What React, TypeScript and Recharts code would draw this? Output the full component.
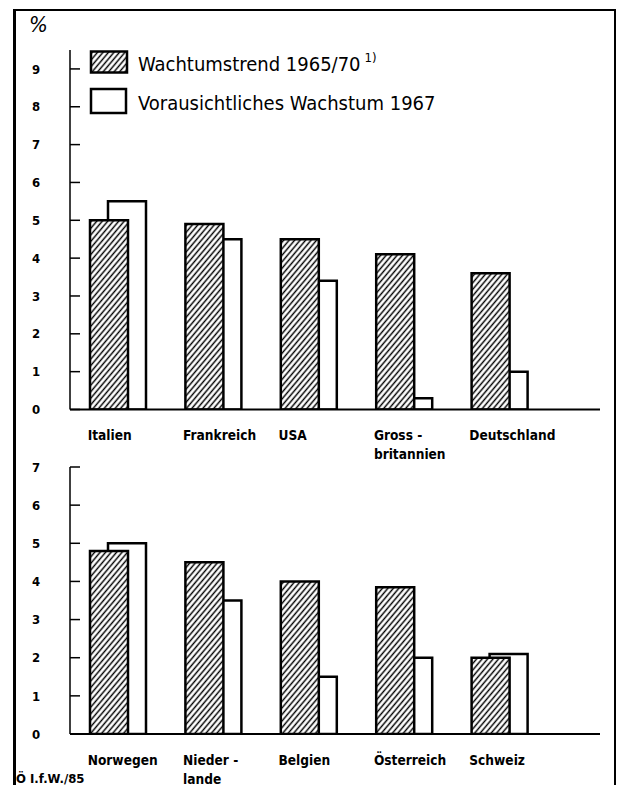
import React from 'react';
import { BarChart, Bar, XAxis, YAxis, Legend } from 'recharts';

// ---- data ----
const topCountries = ['Italien', 'Frankreich', 'USA', 'Gross -\nbritannien', 'Deutschland'];
const topTrend = [5.0, 4.9, 4.5, 4.1, 3.6];
const topForecast = [5.5, 4.5, 3.4, 0.3, 1.0];

const bottomCountries = ['Norwegen', 'Nieder -\nlande', 'Belgien', 'Österreich', 'Schweiz'];
const bottomTrend = [4.8, 4.5, 4.0, 3.85, 2.0];
const bottomForecast = [5.0, 3.5, 1.5, 2.0, 2.1];

const topTicks = [0, 1, 2, 3, 4, 5, 6, 7, 8, 9];
const bottomTicks = [0, 1, 2, 3, 4, 5, 6, 7];

const trendLabel = 'Wachtumstrend 1965/70';
const trendNote = '1)';
const forecastLabel = 'Vorausichtliches Wachstum 1967';
const unitLabel = '%';
const sourceLabel = 'Ö I.f.W./85';

const FONT = "'DejaVu Sans Condensed', 'DejaVu Sans', sans-serif";

const buildRows = (cats: string[], trend: number[], forecast: number[]) =>
  cats.map((c, i) => ({ name: c, trend: trend[i], forecast: forecast[i] }));

const HatchPattern = ({ id }: { id: string }) => (
  <pattern id={id} patternUnits="userSpaceOnUse" width="4.2" height="4.2" patternTransform="rotate(40)">
    <rect width="4.2" height="4.2" fill="#ffffff" />
    <line x1="2.1" y1="-1" x2="2.1" y2="6" stroke="#000" strokeWidth="1.45" />
  </pattern>
);

const ValueTick = (props: any) => {
  const { x, y, payload } = props;
  return (
    <g>
      <line x1={x} x2={x + 10} y1={y} y2={y} stroke="#000" strokeWidth={1.5} />
      <text x={x - 34} y={y} dy="0.36em" textAnchor="middle" fontFamily={FONT} fontWeight="bold" fontSize={13} fill="#000">
        {payload.value}
      </text>
    </g>
  );
};

const CategoryTick = (props: any) => {
  const { x, y, payload } = props;
  const lines = String(payload.value).split('\n');
  const lx = x - 30;
  return (
    <text x={lx} y={y + 30.5} textAnchor="start" fontFamily={FONT} fontWeight="bold" fontSize={13.6} fill="#000">
      {lines.map((l, i) => (
        <tspan key={i} x={lx} dy={i === 0 ? 0 : 19}>
          {l}
        </tspan>
      ))}
    </text>
  );
};

const LegendContent = () => (
  <svg width={420} height={75} style={{ display: 'block' }}>
    <defs>
      <HatchPattern id="hatchLegend" />
    </defs>
    <rect x={12} y={6.5} width={36} height={21} fill="url(#hatchLegend)" stroke="#000" strokeWidth={2.5} />
    <text x={59} y={26} fontFamily={FONT} fontSize={20} fill="#000">
      {trendLabel}
      <tspan dy={-9} fontSize={13} dx={4}>{trendNote}</tspan>
    </text>
    <rect x={12} y={44} width={35} height={24} fill="#fff" stroke="#000" strokeWidth={2.5} />
    <text x={59} y={65} fontFamily={FONT} fontSize={20} fill="#000">
      {forecastLabel}
    </text>
  </svg>
);

type PanelProps = {
  rows: { name: string; trend: number; forecast: number }[];
  ticks: number[];
  domainMax: number;
  height: number;
  marginTop: number;
  marginBottom: number;
  xAxisHeight: number;
  patternId: string;
  withLegend?: boolean;
};

const Panel = ({ rows, ticks, domainMax, height, marginTop, marginBottom, xAxisHeight, patternId, withLegend }: PanelProps) => (
  <BarChart
    width={617}
    height={height}
    data={rows}
    margin={{ top: marginTop, right: 17, left: 0, bottom: marginBottom }}
    barSize={38}
    barGap={-20}
  >
    <defs>
      <HatchPattern id={patternId} />
    </defs>
    <XAxis
      dataKey="name"
      type="category"
      height={xAxisHeight}
      padding={{ left: 0, right: 53 }}
      axisLine={{ stroke: '#000', strokeWidth: 2 }}
      tickLine={false}
      tickSize={0}
      tickMargin={0}
      interval={0}
      tick={<CategoryTick />}
    />
    <YAxis
      width={70}
      type="number"
      domain={[0, domainMax]}
      ticks={ticks}
      interval={0}
      allowDataOverflow
      axisLine={{ stroke: '#000', strokeWidth: 1.5 }}
      tickLine={false}
      tickSize={0}
      tickMargin={0}
      tick={<ValueTick />}
    />
    {withLegend && (
      <Legend
        layout="vertical"
        align="center"
        verticalAlign="middle"
        wrapperStyle={{ top: 45, left: 79, width: 420, height: 75 }}
        content={<LegendContent />}
      />
    )}
    <Bar dataKey={() => 0} stackId="groupTrend" legendType="none" isAnimationActive={false} fill="none" />
    <Bar
      dataKey="forecast"
      stackId="groupForecast"
      fill="#ffffff"
      stroke="#000"
      strokeWidth={2.5}
      isAnimationActive={false}
    />
    <Bar
      dataKey="trend"
      stackId="groupTrend"
      fill={`url(#${patternId})`}
      stroke="#000"
      strokeWidth={2.5}
      isAnimationActive={false}
    />
  </BarChart>
);

export default function App() {
  const topRows = buildRows(topCountries, topTrend, topForecast);
  const bottomRows = buildRows(bottomCountries, bottomTrend, bottomForecast);
  return (
    <div style={{ position: 'absolute', left: 0, top: 0, width: 617, height: 785, background: '#fff', overflow: 'hidden' }}>
      {/* frame */}
      <div style={{ position: 'absolute', left: 13, top: 9, width: 603, height: 2, background: '#000' }} />
      <div style={{ position: 'absolute', left: 13, top: 9, width: 2.5, height: 776, background: '#000' }} />
      <div style={{ position: 'absolute', left: 614, top: 9, width: 1.5, height: 776, background: '#000' }} />
      <div style={{ position: 'absolute', left: 29, top: 12, fontFamily: FONT, fontSize: 22, fontStyle: 'italic', color: '#000' }}>
        {unitLabel}
      </div>
      <div style={{ position: 'absolute', left: 0, top: 0 }}>
        <Panel
          rows={topRows}
          ticks={topTicks}
          domainMax={9.5}
          height={470}
          marginTop={50}
          marginBottom={10.5}
          xAxisHeight={50}
          patternId="hatchTop"
          withLegend
        />
      </div>
      <div style={{ position: 'absolute', left: 0, top: 420 }}>
        <Panel
          rows={bottomRows}
          ticks={bottomTicks}
          domainMax={7}
          height={365}
          marginTop={47}
          marginBottom={4}
          xAxisHeight={47}
          patternId="hatchBottom"
        />
      </div>
      <div style={{ position: 'absolute', left: 16, top: 771, fontFamily: FONT, fontWeight: 'bold', fontSize: 13, color: '#000' }}>
        {sourceLabel}
      </div>
    </div>
  );
}
